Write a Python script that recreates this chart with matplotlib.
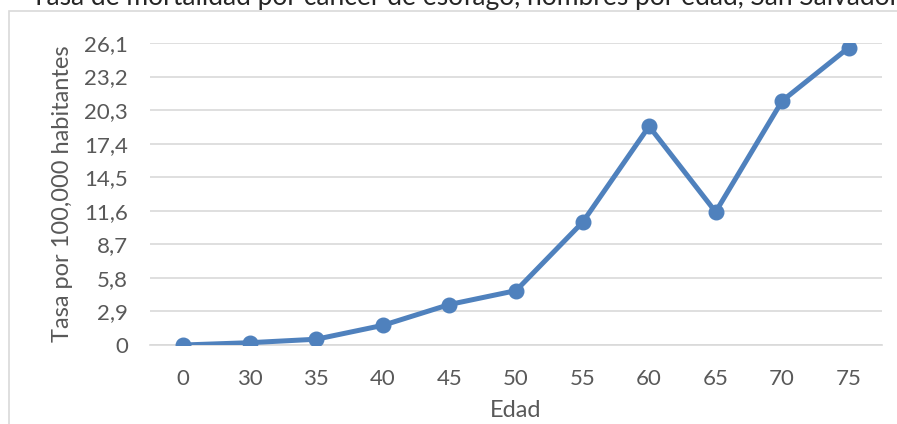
import matplotlib
matplotlib.use("Agg")
import matplotlib.pyplot as plt
from matplotlib.patches import Rectangle

edades = ["0", "30", "35", "40", "45", "50", "55", "60", "65", "70", "75"]
tasas = [0.0, 0.2, 0.5, 1.7, 3.5, 4.7, 10.6, 18.9, 11.5, 21.1, 25.7]
y_ticks = [0, 2.9, 5.8, 8.7, 11.6, 14.5, 17.4, 20.3, 23.2, 26.1]
y_tick_labels = ["0", "2,9", "5,8", "8,7", "11,6", "14,5", "17,4", "20,3", "23,2", "26,1"]
titulo = "Tasa de mortalidad por cáncer de esófago, hombres por edad, San Salvador, 2015"

plt.rcParams['font.family'] = ['Lato', 'DejaVu Sans']

fig = plt.figure(figsize=(8.97, 4.24), dpi=100)
W, H = 897, 424
ax = fig.add_axes([150 / W, 1 - 345 / H, (882 - 150) / W, (345 - 43) / H])

# chart border
fig.patches.append(Rectangle((9 / W, -0.1), 1.2, 1 - 11 / H + 0.1, transform=fig.transFigure,
                             fill=False, edgecolor="#D9D9D9", lw=1.2, clip_on=False))
# title, cut off by the top edge as in the reference
fig.text(0.56, 1 - 5 / H, titulo, ha="center", va="baseline", fontsize=19, color="#262626")

x = list(range(len(edades)))
ax.plot(x, tasas, color="#4F81BD", lw=3.6, marker="o", markersize=10.5, zorder=3,
        solid_joinstyle="round")

ax.set_xlim(-0.5, len(edades) - 0.5)
ax.set_ylim(0, 26.1)
ax.set_xticks(x)
ax.set_xticklabels(edades)
ax.set_yticks(y_ticks)
ax.set_yticklabels(y_tick_labels)
ax.tick_params(length=0, labelsize=16, labelcolor="#595959")
ax.tick_params(axis="y", pad=16)
ax.tick_params(axis="x", pad=17.5)
ax.grid(axis="y", color="#D9D9D9", lw=1.2)
ax.set_axisbelow(True)
for s in ["top", "right", "left"]:
    ax.spines[s].set_visible(False)
ax.spines["bottom"].set_color("#D9D9D9")
ax.spines["bottom"].set_linewidth(1.2)

ax.set_xlabel("Edad", fontsize=17, color="#595959", labelpad=7.5)
ax.set_ylabel("Tasa por 100,000 habitantes", fontsize=17, color="#595959", labelpad=8)

fig.savefig("out.png", dpi=100)
